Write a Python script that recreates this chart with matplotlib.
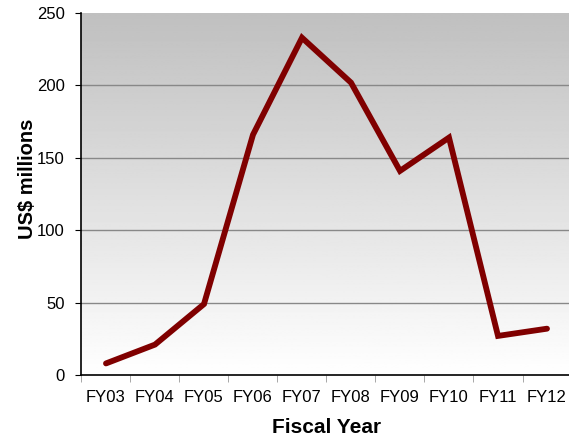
import matplotlib
matplotlib.use('Agg')
import matplotlib.pyplot as plt
import numpy as np

years = ["FY03", "FY04", "FY05", "FY06", "FY07", "FY08", "FY09", "FY10", "FY11", "FY12"]
values = [8, 21, 49, 166, 233, 202, 141, 164, 27, 32]

plt.rcParams['font.family'] = ['Liberation Sans', 'DejaVu Sans']

fig = plt.figure(figsize=(5.69, 4.36), dpi=100)
ax = fig.add_axes([0.1432, 0.1399, 0.8612, 0.830])

# gray (top) to white (bottom) background gradient
grad = np.linspace(0.75, 1.0, 256).reshape(-1, 1)
ax.imshow(grad, cmap='gray', vmin=0, vmax=1, aspect='auto', origin='upper',
          extent=[0, 1, 0, 1], transform=ax.transAxes, zorder=0)

x = np.arange(len(years))
ax.plot(x, values, color='#800000', linewidth=4.2, solid_capstyle='round',
        solid_joinstyle='miter', zorder=3)

ax.set_xlim(-0.5, len(years) - 0.5)
ax.set_ylim(0, 250)
ax.set_yticks([0, 50, 100, 150, 200, 250])
ax.set_xticks(x)
ax.set_xticklabels(years)
ax.set_xticks(np.arange(-0.5, len(years)), minor=True)
ax.tick_params(axis='x', which='major', length=0, labelsize=12, pad=11)
ax.tick_params(axis='x', which='minor', length=5, color='#999999')
ax.tick_params(axis='y', length=4, labelsize=12, pad=8)

for v in [50, 100, 150, 200]:
    ax.axhline(v, color='#888888', linewidth=1, zorder=1)

for s in ['top', 'right']:
    ax.spines[s].set_visible(False)
ax.spines['left'].set_linewidth(1.2)
ax.spines['bottom'].set_linewidth(1.2)

ax.set_xlabel('Fiscal Year', fontsize=15, fontweight='bold', labelpad=9)
ax.set_ylabel('US$ millions', fontsize=14.5, fontweight='bold')
ax.yaxis.set_label_coords(-0.09, 0.541)

fig.savefig('out.png', dpi=100)
